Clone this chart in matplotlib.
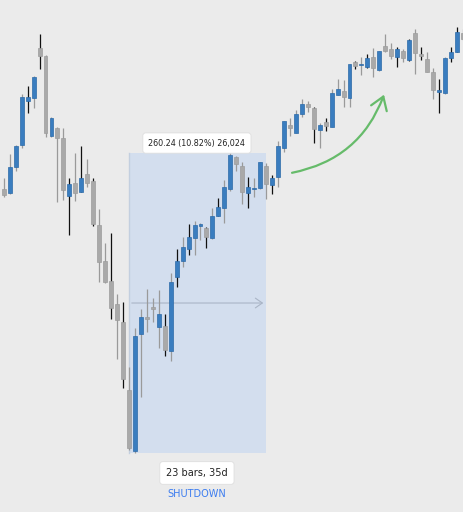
import matplotlib
matplotlib.use("Agg")
import matplotlib.pyplot as plt
from matplotlib.patches import Rectangle, FancyArrowPatch

# ---- data (S&P 500 daily candles) ----
opens = [2575.8, 2572.3, 2594.9, 2614.0, 2652.5, 2655.1, 2698.0, 2691.3, 2621.8, 2629.0,
         2619.8, 2569.9, 2581.2, 2573.4, 2588.8, 2582.7, 2544.5, 2513.2, 2495.8, 2476.1,
         2460.4, 2401.1, 2348.1, 2449.5, 2464.5, 2473.2, 2456.1, 2457.0, 2435.0, 2499.5,
         2513.2, 2523.9, 2532.9, 2543.6, 2541.6, 2532.9, 2552.3, 2559.0, 2575.8, 2603.8,
         2595.7, 2572.0, 2576.0, 2576.4, 2595.7, 2579.2, 2586.4, 2611.6, 2631.4, 2624.7,
         2640.7, 2649.4, 2646.1, 2627.0, 2634.0, 2629.9, 2657.7, 2661.2, 2654.6, 2686.4,
         2683.3, 2681.5, 2690.2, 2679.2, 2700.3, 2697.2, 2690.2, 2695.7, 2687.9, 2711.1,
         2692.8, 2688.7, 2677.2, 2660.3, 2658.9, 2689.3, 2695.1, 2711.6]
highs = [2585.3, 2606.2, 2614.0, 2658.1, 2665.3, 2674.0, 2710.2, 2692.2, 2638.1, 2629.6,
         2628.5, 2585.3, 2607.3, 2613.4, 2602.1, 2585.1, 2558.4, 2529.1, 2537.3, 2484.5,
         2477.8, 2421.3, 2455.4, 2471.5, 2488.6, 2481.3, 2488.0, 2466.9, 2502.5, 2523.6,
         2533.8, 2545.3, 2548.0, 2546.5, 2542.5, 2559.0, 2568.2, 2583.6, 2606.8, 2604.4,
         2599.0, 2585.9, 2585.1, 2599.5, 2598.1, 2587.9, 2617.7, 2635.1, 2637.2, 2644.4,
         2654.0, 2652.5, 2646.8, 2632.9, 2637.7, 2662.4, 2671.6, 2670.5, 2684.6, 2687.0,
         2690.2, 2693.1, 2698.5, 2696.1, 2710.5, 2702.9, 2699.2, 2697.2, 2706.1, 2714.5,
         2699.4, 2694.6, 2681.2, 2671.1, 2690.7, 2699.4, 2716.3, 2714.5]
lows = [2568.8, 2571.0, 2591.7, 2611.1, 2642.1, 2646.4, 2680.0, 2621.2, 2621.2, 2564.7,
        2566.2, 2535.8, 2565.3, 2573.2, 2577.2, 2543.9, 2495.2, 2493.8, 2462.8, 2428.0,
        2403.1, 2348.9, 2346.6, 2395.3, 2451.8, 2459.9, 2437.3, 2430.9, 2426.6, 2490.9,
        2508.2, 2518.1, 2518.1, 2531.4, 2524.2, 2532.0, 2551.9, 2546.0, 2574.3, 2591.7,
        2562.5, 2559.0, 2569.1, 2575.5, 2566.8, 2571.4, 2577.8, 2607.7, 2622.1, 2624.2,
        2638.6, 2642.9, 2615.5, 2611.6, 2626.2, 2629.6, 2657.4, 2647.3, 2647.3, 2680.0,
        2674.8, 2681.2, 2673.3, 2678.7, 2695.2, 2688.5, 2682.0, 2685.9, 2687.0, 2675.7,
        2687.9, 2677.2, 2654.0, 2641.5, 2658.3, 2685.9, 2694.6, 2705.2]
closes = [2570.5, 2594.9, 2613.4, 2656.0, 2655.7, 2672.8, 2691.3, 2624.7, 2637.2, 2620.3,
          2574.9, 2580.4, 2572.0, 2585.3, 2581.2, 2545.3, 2512.6, 2494.9, 2472.1, 2461.9,
          2410.4, 2350.4, 2448.0, 2464.3, 2462.4, 2471.2, 2466.9, 2435.8, 2494.9, 2512.9,
          2525.6, 2533.8, 2544.2, 2545.3, 2534.3, 2552.6, 2559.9, 2577.8, 2605.6, 2597.2,
          2573.4, 2577.8, 2576.9, 2599.0, 2580.1, 2585.1, 2613.4, 2634.6, 2628.5, 2640.9,
          2649.6, 2646.8, 2627.6, 2631.4, 2630.8, 2658.9, 2662.4, 2656.0, 2684.1, 2682.9,
          2684.1, 2689.3, 2680.6, 2695.7, 2695.7, 2691.3, 2697.7, 2689.9, 2705.2, 2693.7,
          2691.3, 2677.7, 2661.8, 2661.8, 2689.3, 2695.1, 2712.5, 2706.1]

range_start, range_end = 21, 44          # bar indices of the measured range
range_low, range_high = 2346.58, 2606.82
range_label = "260.24 (10.82%) 26,024"
bars_label = "23 bars, 35d"
event_label = "SHUTDOWN"

# ---- style ----
BG = "#ebebeb"
UP = "#3a7dbf"
UP_EDGE = "#2c6aa8"
DOWN = "#a9a9a9"
DOWN_EDGE = "#9c9c9c"
WICK = "#9a9a9a"
black_wicks = {4, 6, 11, 13, 15, 18, 20, 27, 29, 31, 34, 36, 41, 45, 52, 54,
               59, 61, 66, 68, 70, 73, 75, 76}

fig = plt.figure(figsize=(4.64, 5.12), dpi=100, facecolor=BG)
ax = fig.add_axes([0, 0, 1, 1])
ax.set_facecolor(BG)
ax.set_xlim(-0.638, 77.21)
ax.set_ylim(2295.1, 2740.0)
ax.axis("off")

# measured range box
ax.add_patch(Rectangle((range_start, range_low), range_end - range_start,
                       range_high - range_low, facecolor="#d3deee",
                       edgecolor="none", zorder=1))
ax.plot([range_start, range_start], [range_low, range_high], color="#c3cfdf",
        lw=1.0, zorder=1.1)
mid = (range_low + range_high) / 2
ax.annotate("", xy=(range_end, mid), xytext=(range_start, mid),
            arrowprops=dict(arrowstyle="->,head_length=0.5,head_width=0.35",
                            color="#aab5c6", lw=0.8, mutation_scale=10),
            zorder=1.2)

bw = 0.66
for i, (o, h, l, c) in enumerate(zip(opens, highs, lows, closes)):
    up = c >= o
    wc = "#111111" if i in black_wicks else WICK
    ax.plot([i, i], [l, h], color=wc, lw=0.9, zorder=2, solid_capstyle="butt")
    lo, hi = min(o, c), max(o, c)
    hgt = max(hi - lo, 0.9)
    ax.add_patch(Rectangle((i - bw / 2, lo), bw, hgt,
                           facecolor=UP if up else DOWN,
                           edgecolor=UP_EDGE if up else DOWN_EDGE,
                           lw=0.5, zorder=3))

xc = (range_start + range_end) / 2
ax.text(xc - 0.1, 2615.7, range_label, ha="center", va="center", fontsize=5.8,
        color="#222222", zorder=5,
        bbox=dict(boxstyle="round,pad=0.7,rounding_size=0.35", fc="white",
                  ec="#dedede", lw=0.6))
ax.text(xc - 0.1, 2329.0, bars_label, ha="center", va="center", fontsize=7.0,
        color="#222222", zorder=5,
        bbox=dict(boxstyle="round,pad=0.65,rounding_size=0.3", fc="white",
                  ec="#dedede", lw=0.6))
ax.text(xc - 0.1, 2311.0, event_label, ha="center", va="center", fontsize=7.0,
        color="#3b7cf0", zorder=5)

# green curved arrow
arr = FancyArrowPatch((47.9, 2589.4), (63.95, 2660.0),
                      connectionstyle="arc3,rad=0.29",
                      arrowstyle="->,head_length=0.9,head_width=0.6",
                      mutation_scale=10, color="#66bb6a", lw=1.6, zorder=4)
ax.add_patch(arr)

fig.savefig("out.png", dpi=100, facecolor=BG)
